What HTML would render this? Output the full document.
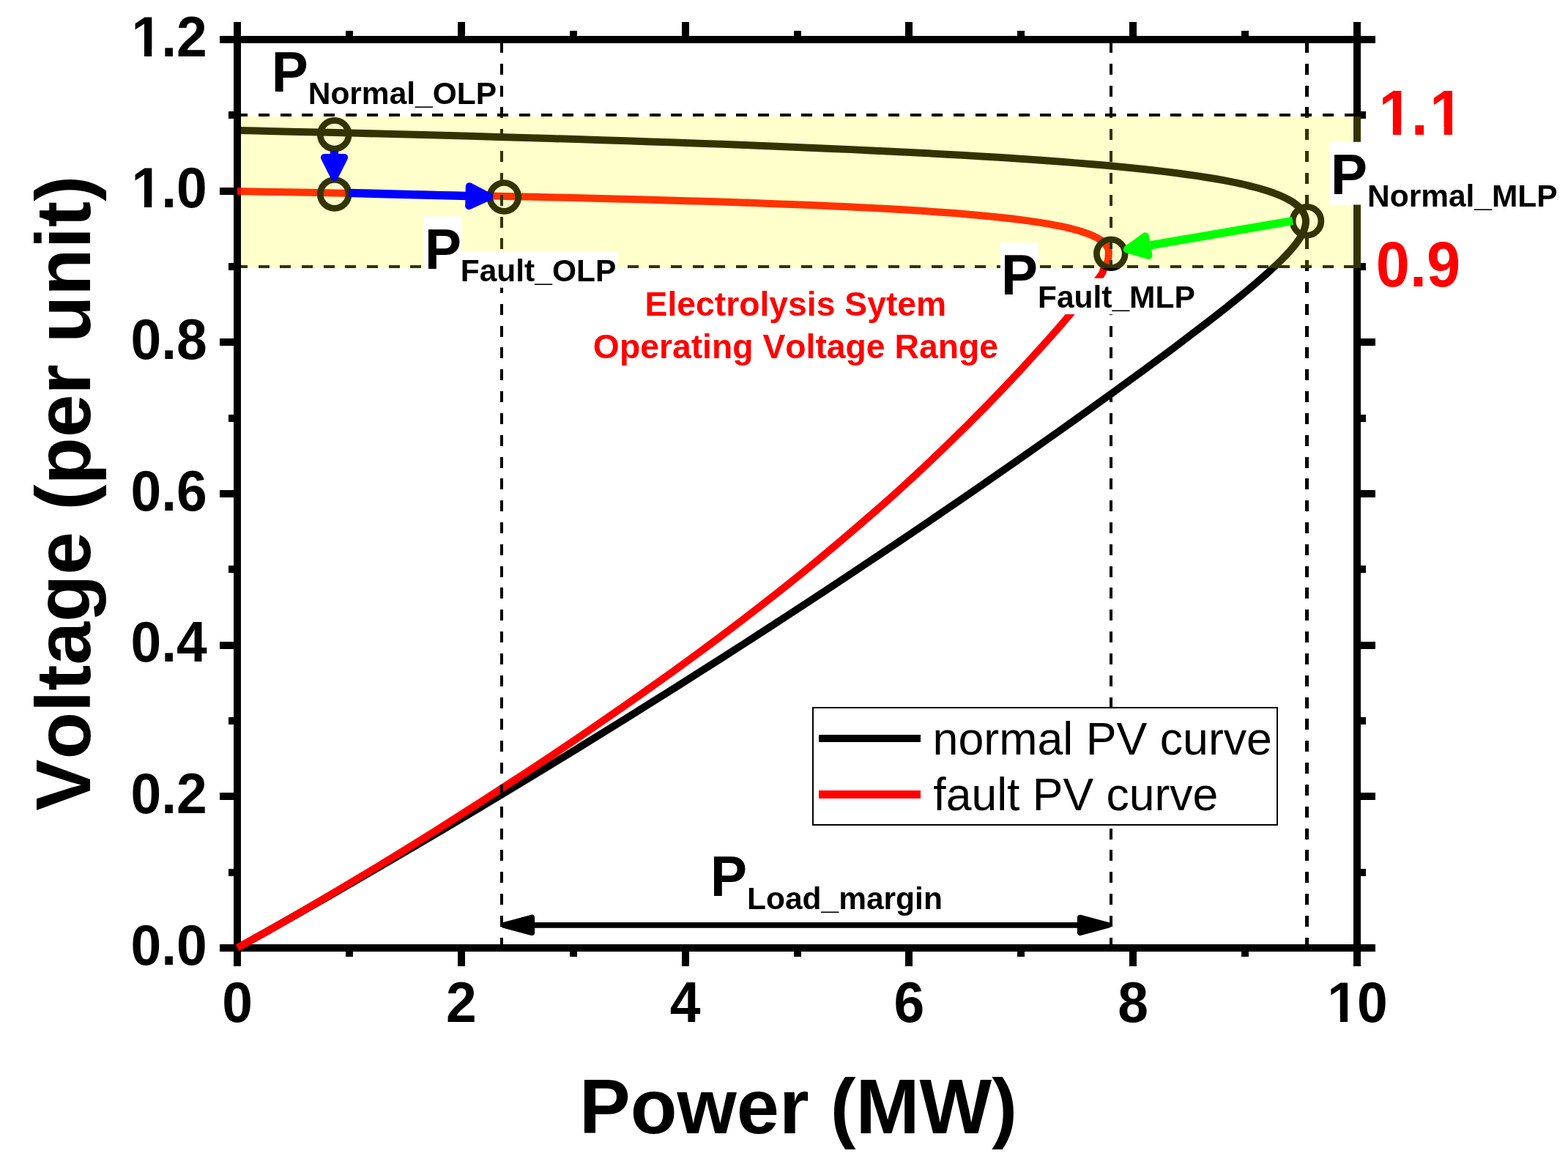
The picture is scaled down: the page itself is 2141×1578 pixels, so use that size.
<!DOCTYPE html>
<html lang="en"><head><meta charset="utf-8"><title>PV curve: voltage versus power</title>
<style>html,body{margin:0;padding:0;background:#fff;overflow:hidden}svg{display:block}text{font-family:'Liberation Sans', Arial, Helvetica, sans-serif;font-kerning:none;white-space:pre}.b{font-weight:bold}</style></head><body>
<svg width="2141" height="1578" viewBox="0 0 2141 1578" role="img" aria-label="PV curves: voltage (per unit) versus power (MW) for normal and fault conditions">
<rect width="2141" height="1578" fill="#fff"/>
<g id="axes" stroke="#000" stroke-width="10" fill="none" shape-rendering="crispEdges">
<path d="M299.5 54 H1877.5 M299.5 1294 H1877.5 M324 29.5 V1318.5 M1853 29.5 V1318.5"/>
<path d="M324 54 v-24.5 M324 1294 v24.5 M476.9 54 v-12 M476.9 1294 v12 M629.8 54 v-24.5 M629.8 1294 v24.5 M782.7 54 v-12 M782.7 1294 v12 M935.6 54 v-24.5 M935.6 1294 v24.5 M1088.5 54 v-12 M1088.5 1294 v12 M1241.4 54 v-24.5 M1241.4 1294 v24.5 M1394.3 54 v-12 M1394.3 1294 v12 M1547.2 54 v-24.5 M1547.2 1294 v24.5 M1700.1 54 v-12 M1700.1 1294 v12 M1853 54 v-24.5 M1853 1294 v24.5 M324 1294 h-24.5 M1853 1294 h24.5 M324 1190.67 h-12 M1853 1190.67 h12 M324 1087.33 h-24.5 M1853 1087.33 h24.5 M324 984 h-12 M1853 984 h12 M324 880.67 h-24.5 M1853 880.67 h24.5 M324 777.33 h-12 M1853 777.33 h12 M324 674 h-24.5 M1853 674 h24.5 M324 570.67 h-12 M1853 570.67 h12 M324 467.33 h-24.5 M1853 467.33 h24.5 M324 364 h-12 M1853 364 h12 M324 260.67 h-24.5 M1853 260.67 h24.5 M324 157.33 h-12 M1853 157.33 h12 M324 54 h-24.5 M1853 54 h24.5"/>
</g>
<g id="curves" fill="none" stroke-width="10" stroke-linejoin="round">
<path stroke="#000" d="M324 178.03 C331 178.19 352.09 178.65 365.98 178.96 C379.88 179.27 393.67 179.59 407.35 179.9 C421.04 180.22 434.63 180.54 448.11 180.86 C461.6 181.18 474.98 181.51 488.26 181.83 C501.54 182.16 514.71 182.49 527.79 182.82 C540.86 183.15 553.84 183.49 566.71 183.83 C579.58 184.16 592.35 184.5 605.01 184.84 C617.68 185.18 630.24 185.53 642.71 185.87 C655.17 186.22 667.53 186.56 679.79 186.91 C692.04 187.26 704.2 187.62 716.25 187.97 C728.31 188.32 740.26 188.68 752.11 189.04 C763.96 189.4 775.7 189.76 787.35 190.12 C798.99 190.48 810.54 190.85 821.98 191.21 C833.42 191.58 844.76 191.95 855.99 192.32 C867.23 192.69 878.36 193.06 889.4 193.44 C900.43 193.81 911.36 194.19 922.19 194.57 C933.01 194.95 943.74 195.33 954.36 195.71 C964.99 196.1 975.51 196.48 985.93 196.87 C996.35 197.26 1006.66 197.65 1016.88 198.05 C1027.09 198.44 1037.21 198.83 1047.22 199.23 C1057.23 199.63 1067.14 200.03 1076.94 200.43 C1086.75 200.84 1096.45 201.24 1106.06 201.65 C1115.66 202.06 1125.16 202.47 1134.56 202.88 C1143.95 203.3 1153.25 203.71 1162.44 204.13 C1171.64 204.55 1180.73 204.98 1189.72 205.4 C1198.71 205.83 1207.59 206.26 1216.38 206.69 C1225.16 207.12 1233.84 207.55 1242.43 207.99 C1251.01 208.43 1259.48 208.87 1267.86 209.32 C1276.24 209.76 1284.51 210.21 1292.68 210.67 C1300.85 211.12 1308.92 211.57 1316.89 212.04 C1324.86 212.5 1332.73 212.96 1340.49 213.43 C1348.25 213.9 1355.91 214.37 1363.47 214.85 C1371.03 215.32 1378.49 215.8 1385.84 216.29 C1393.2 216.78 1400.45 217.27 1407.6 217.76 C1414.75 218.26 1421.8 218.76 1428.75 219.26 C1435.69 219.77 1442.54 220.28 1449.28 220.79 C1456.02 221.31 1462.66 221.83 1469.2 222.36 C1475.73 222.89 1482.17 223.42 1488.5 223.96 C1494.84 224.49 1501.07 225.04 1507.2 225.59 C1513.33 226.14 1519.35 226.7 1525.28 227.26 C1531.2 227.82 1537.02 228.39 1542.74 228.97 C1548.46 229.55 1554.08 230.13 1559.6 230.72 C1565.12 231.31 1570.53 231.91 1575.84 232.51 C1581.15 233.12 1586.36 233.73 1591.47 234.35 C1596.58 234.97 1601.58 235.6 1606.49 236.24 C1611.39 236.87 1616.19 237.52 1620.89 238.17 C1625.59 238.83 1630.18 239.49 1634.68 240.16 C1639.17 240.83 1643.57 241.51 1647.86 242.2 C1652.15 242.89 1656.33 243.59 1660.42 244.3 C1664.51 245.01 1668.49 245.72 1672.37 246.45 C1676.25 247.18 1680.03 247.92 1683.71 248.67 C1687.39 249.42 1690.96 250.18 1694.44 250.95 C1697.91 251.72 1701.28 252.51 1704.55 253.3 C1707.82 254.09 1710.98 254.9 1714.05 255.72 C1717.11 256.54 1720.08 257.36 1722.94 258.21 C1725.8 259.05 1728.55 259.9 1731.21 260.77 C1733.87 261.64 1736.42 262.52 1738.87 263.41 C1741.32 264.31 1743.67 265.21 1745.92 266.14 C1748.17 267.06 1750.31 267.99 1752.36 268.94 C1754.4 269.89 1756.34 270.86 1758.18 271.84 C1760.02 272.82 1761.75 273.81 1763.39 274.82 C1765.02 275.83 1766.55 276.86 1767.98 277.9 C1769.41 278.94 1770.74 280 1771.97 281.07 C1773.19 282.15 1774.32 283.24 1775.34 284.35 C1776.36 285.46 1777.28 286.58 1778.1 287.73 C1778.91 288.87 1779.63 290.03 1780.24 291.21 C1780.85 292.39 1781.37 293.59 1781.77 294.81 C1782.18 296.02 1782.49 297.28 1782.69 298.52 C1782.9 299.75 1783 300.94 1783 302.21 C1783 303.48 1782.9 304.79 1782.69 306.15 C1782.49 307.52 1782.18 308.95 1781.77 310.4 C1781.37 311.84 1780.85 313.31 1780.24 314.82 C1779.63 316.33 1778.91 317.86 1778.1 319.44 C1777.28 321.01 1776.36 322.62 1775.34 324.27 C1774.32 325.91 1773.19 327.6 1771.97 329.32 C1770.74 331.05 1769.41 332.82 1767.98 334.63 C1766.55 336.43 1765.02 338.28 1763.39 340.18 C1761.75 342.08 1760.02 344.02 1758.18 346.01 C1756.34 348 1754.4 350.03 1752.36 352.12 C1750.31 354.2 1748.17 356.33 1745.92 358.51 C1743.67 360.7 1741.32 362.93 1738.87 365.22 C1736.42 367.5 1733.87 369.84 1731.21 372.23 C1728.55 374.62 1725.8 377.07 1722.94 379.57 C1720.08 382.07 1717.11 384.62 1714.05 387.23 C1710.98 389.84 1707.82 392.51 1704.55 395.23 C1701.28 397.95 1697.91 400.73 1694.44 403.57 C1690.96 406.41 1687.39 409.3 1683.71 412.26 C1680.03 415.21 1676.25 418.23 1672.37 421.3 C1668.49 424.37 1664.51 427.51 1660.42 430.7 C1656.33 433.89 1652.15 437.14 1647.86 440.46 C1643.57 443.77 1639.17 447.15 1634.68 450.58 C1630.18 454.02 1625.59 457.51 1620.89 461.07 C1616.19 464.63 1611.39 468.25 1606.49 471.93 C1601.58 475.61 1596.58 479.35 1591.47 483.15 C1586.36 486.96 1581.15 490.82 1575.84 494.75 C1570.53 498.68 1565.12 502.66 1559.6 506.71 C1554.08 510.76 1548.46 514.88 1542.74 519.05 C1537.02 523.22 1531.2 527.46 1525.28 531.75 C1519.35 536.05 1513.33 540.41 1507.2 544.82 C1501.07 549.24 1494.84 553.72 1488.5 558.26 C1482.17 562.8 1475.73 567.4 1469.2 572.06 C1462.66 576.72 1456.02 581.44 1449.28 586.22 C1442.54 591 1435.69 595.84 1428.75 600.74 C1421.8 605.64 1414.75 610.6 1407.6 615.61 C1400.45 620.63 1393.2 625.71 1385.84 630.84 C1378.49 635.97 1371.03 641.16 1363.47 646.41 C1355.91 651.66 1348.25 656.96 1340.49 662.32 C1332.73 667.68 1324.86 673.1 1316.89 678.57 C1308.92 684.05 1300.85 689.57 1292.68 695.16 C1284.51 700.74 1276.24 706.38 1267.86 712.07 C1259.48 717.76 1251.01 723.5 1242.43 729.3 C1233.84 735.1 1225.16 740.95 1216.38 746.85 C1207.59 752.75 1198.71 758.71 1189.72 764.71 C1180.73 770.72 1171.64 776.78 1162.44 782.88 C1153.25 788.99 1143.95 795.14 1134.56 801.35 C1125.16 807.55 1115.66 813.81 1106.06 820.11 C1096.45 826.41 1086.75 832.76 1076.94 839.15 C1067.14 845.55 1057.23 851.99 1047.22 858.48 C1037.21 864.97 1027.09 871.5 1016.88 878.08 C1006.66 884.66 996.35 891.28 985.93 897.95 C975.51 904.62 964.99 911.33 954.36 918.08 C943.74 924.83 933.01 931.63 922.19 938.46 C911.36 945.3 900.43 952.18 889.4 959.1 C878.36 966.01 867.23 972.97 855.99 979.97 C844.76 986.97 833.42 994.01 821.98 1001.08 C810.54 1008.16 798.99 1015.27 787.35 1022.42 C775.7 1029.57 763.96 1036.76 752.11 1043.98 C740.26 1051.21 728.31 1058.47 716.25 1065.77 C704.2 1073.06 692.04 1080.39 679.79 1087.76 C667.53 1095.12 655.17 1102.52 642.71 1109.96 C630.24 1117.39 617.68 1124.86 605.01 1132.35 C592.35 1139.85 579.58 1147.38 566.71 1154.95 C553.84 1162.51 540.86 1170.11 527.79 1177.73 C514.71 1185.36 501.54 1193.01 488.26 1200.7 C474.98 1208.39 461.6 1216.1 448.11 1223.85 C434.63 1231.59 421.04 1239.37 407.35 1247.17 C393.67 1254.98 379.88 1262.87 365.98 1270.67 C352.09 1278.48 331 1290.11 324 1294"/>
<path stroke="#f00" d="M324 261.07 C329.71 261.17 346.91 261.45 358.24 261.64 C369.57 261.83 380.81 262.03 391.97 262.22 C403.14 262.41 414.22 262.6 425.21 262.8 C436.21 262.99 447.12 263.18 457.95 263.38 C468.78 263.57 479.52 263.77 490.19 263.96 C500.85 264.16 511.43 264.35 521.93 264.55 C532.42 264.75 542.83 264.94 553.16 265.14 C563.49 265.34 573.74 265.54 583.9 265.74 C594.06 265.94 604.14 266.14 614.14 266.34 C624.14 266.54 634.05 266.74 643.88 266.95 C653.71 267.15 663.45 267.35 673.12 267.56 C682.78 267.76 692.36 267.97 701.86 268.18 C711.35 268.39 720.77 268.59 730.1 268.8 C739.43 269.01 748.67 269.23 757.84 269.44 C767 269.65 776.08 269.87 785.08 270.08 C794.07 270.3 802.99 270.51 811.82 270.73 C820.65 270.95 829.39 271.17 838.06 271.39 C846.72 271.61 855.3 271.84 863.8 272.06 C872.29 272.29 880.71 272.51 889.04 272.74 C897.37 272.97 905.61 273.2 913.78 273.44 C921.94 273.67 930.02 273.9 938.02 274.14 C946.01 274.38 953.93 274.62 961.76 274.86 C969.59 275.1 977.34 275.35 985 275.59 C992.66 275.84 1000.24 276.09 1007.74 276.34 C1015.24 276.59 1022.65 276.85 1029.98 277.1 C1037.31 277.36 1044.56 277.62 1051.72 277.88 C1058.89 278.15 1065.97 278.41 1072.97 278.68 C1079.96 278.95 1086.88 279.22 1093.71 279.5 C1100.54 279.77 1107.29 280.05 1113.95 280.33 C1120.62 280.61 1127.2 280.9 1133.69 281.19 C1140.19 281.47 1146.61 281.77 1152.94 282.06 C1159.27 282.36 1165.52 282.66 1171.68 282.96 C1177.84 283.27 1183.92 283.57 1189.92 283.88 C1195.92 284.2 1201.83 284.51 1207.67 284.83 C1213.5 285.15 1219.24 285.48 1224.91 285.81 C1230.57 286.14 1236.16 286.47 1241.65 286.81 C1247.15 287.15 1252.57 287.49 1257.9 287.84 C1263.23 288.18 1268.48 288.54 1273.64 288.89 C1278.81 289.25 1283.89 289.62 1288.89 289.98 C1293.88 290.35 1298.8 290.73 1303.63 291.11 C1308.46 291.48 1313.21 291.87 1317.87 292.26 C1322.54 292.65 1327.12 293.05 1331.62 293.45 C1336.12 293.85 1340.53 294.26 1344.86 294.67 C1349.2 295.09 1353.44 295.51 1357.61 295.94 C1361.77 296.36 1365.86 296.8 1369.85 297.24 C1373.85 297.68 1377.77 298.13 1381.6 298.58 C1385.43 299.03 1389.18 299.49 1392.85 299.96 C1396.51 300.43 1400.09 300.91 1403.59 301.39 C1407.09 301.87 1410.51 302.36 1413.84 302.86 C1417.17 303.36 1420.42 303.86 1423.58 304.38 C1426.75 304.89 1429.83 305.41 1432.83 305.94 C1435.83 306.47 1438.75 307.01 1441.58 307.56 C1444.41 308.11 1447.16 308.66 1449.82 309.22 C1452.49 309.79 1455.07 310.36 1457.57 310.94 C1460.07 311.53 1462.49 312.12 1464.82 312.72 C1467.15 313.32 1469.4 313.93 1471.57 314.55 C1473.73 315.17 1475.81 315.79 1477.81 316.43 C1479.81 317.07 1481.73 317.72 1483.56 318.38 C1485.39 319.04 1487.14 319.71 1488.81 320.39 C1490.48 321.07 1492.06 321.76 1493.56 322.46 C1495.06 323.16 1496.47 323.87 1497.81 324.6 C1499.14 325.32 1500.39 326.05 1501.55 326.8 C1502.72 327.55 1503.8 328.3 1504.8 329.07 C1505.8 329.84 1506.72 330.62 1507.55 331.42 C1508.39 332.21 1509.14 333.01 1509.8 333.83 C1510.47 334.65 1511.05 335.48 1511.55 336.32 C1512.05 337.17 1512.47 338.02 1512.8 338.89 C1513.13 339.76 1513.38 340.52 1513.55 341.54 C1513.72 342.55 1513.94 342.59 1513.8 345 C1513.66 347.41 1513.82 352.3 1512.7 356 C1511.58 359.7 1509.13 363.28 1507.1 367.2 C1505.07 371.12 1508.27 369.05 1500.5 379.5 C1492.73 389.95 1472.87 414.98 1460.5 429.9 C1448.13 444.82 1440.65 453.09 1426.3 469.02 C1411.95 484.94 1392.22 506.67 1374.4 525.46 C1356.58 544.26 1338.47 562.87 1319.4 581.8 C1300.33 600.74 1279.9 620.44 1260 639.07 C1240.1 657.71 1226.67 670.42 1200 693.62 C1173.33 716.82 1133.33 751.12 1100 778.29 C1066.67 805.47 1033.33 831.35 1000 856.66 C966.67 881.97 933.33 906.29 900 930.15 C866.67 954.02 833.33 977.13 800 999.86 C766.67 1022.59 733.33 1044.75 700 1066.55 C666.67 1088.35 633.33 1109.7 600 1130.66 C566.67 1151.62 533.33 1172.21 500 1192.31 C466.67 1212.41 429.33 1234.34 400 1251.29 C370.67 1268.23 336.67 1286.88 324 1294"/>
</g>
<g id="guides" stroke="#000" stroke-width="4" fill="none" shape-rendering="crispEdges">
<path d="M685 1294.6 V57.2" stroke-width="4" stroke-dasharray="15 14.82"/>
<path d="M1517 1294.6 V57.2" stroke-width="4" stroke-dasharray="15 14.82"/>
<path d="M1784.5 1294.6 V57.2" stroke-width="5" stroke-dasharray="15 14.82"/>
<path d="M323.4 157 H1853" stroke-dasharray="15 14.65"/>
<path d="M323.1 364 H1853" stroke-dasharray="15 14.65"/>
</g>
<g id="points" stroke="#000" stroke-width="8.7" fill="none">
<circle cx="456.7" cy="183.7" r="19.4"/>
<circle cx="456.7" cy="264.9" r="19.4"/>
<circle cx="688.3" cy="268.9" r="19.4"/>
<circle cx="1516.8" cy="346.2" r="19.4"/>
<circle cx="1784.5" cy="301.8" r="19.4"/>
</g>
<rect id="band" x="329" y="159" width="1529" height="207" fill="#ff0" fill-opacity="0.2" shape-rendering="crispEdges"/>
<g fill="#00f" stroke="#00f" stroke-linejoin="round">
<path d="M456.5 206 L456.5 214.9" stroke-width="11.2" fill="none"/>
<path d="M456.5 241.9 L442.9 214.9 L470.1 214.9 Z" stroke-width="10"/>
</g>
<g fill="#00f" stroke="#00f" stroke-linejoin="round">
<path d="M476.6 263.4 L640.51 267.65" stroke-width="11.4" fill="none"/>
<path d="M668.3 268.37 L640.16 281.15 L640.86 254.15 Z" stroke-width="10"/>
</g>
<g fill="#0f0" stroke="#0f0" stroke-linejoin="round">
<path d="M1765.1 301.4 L1566.22 335.64" stroke-width="11.2" fill="none"/>
<path d="M1538.83 340.35 L1563.93 322.33 L1568.51 348.94 Z" stroke-width="10"/>
</g>
<g fill="#000" stroke="#000" stroke-linejoin="round">
<path d="M726.3 1262.9 L1474.7 1262.9" stroke-width="7.6" fill="none"/>
<path d="M1513.7 1262.9 L1474.7 1273.3 L1474.7 1252.5 Z M687.3 1262.9 L726.3 1252.5 L726.3 1273.3 Z" stroke-width="7.6"/>
</g>
<text class="b" transform="translate(370.7 125) scale(1 1.04)" font-size="75">P</text>
<text class="b" transform="translate(420.7 141.9) scale(1 1.02)" font-size="42.5">Normal_OLP</text>
<path fill="#fff" d="M578.7 295.6 H630.4 V381.4 H578.7 Z M630.4 343.6 H843 V392.8 H630.4 Z"/>
<text class="b" transform="translate(579.9 366.8) scale(1 1.04)" font-size="75">P</text>
<text class="b" transform="translate(628.8 383.6) scale(1 1.02)" font-size="42.5">Fault_OLP</text>
<path fill="#fff" d="M1365.8 331.2 H1417.5 V417 H1365.8 Z M1417.5 379.8 H1633.2 V429 H1417.5 Z"/>
<text class="b" transform="translate(1367 402.4) scale(1 1.04)" font-size="75">P</text>
<text class="b" transform="translate(1417 419.8) scale(1 1.02)" font-size="42.5">Fault_MLP</text>
<path fill="#fff" d="M1815.7 193.7 H1867.4 V279.5 H1815.7 Z M1867.4 241.5 H2127 V290.7 H1867.4 Z"/>
<text class="b" transform="translate(1816.9 264.9) scale(1 1.04)" font-size="75">P</text>
<text class="b" transform="translate(1867 281.5) scale(1 1.02)" font-size="42.5">Normal_MLP</text>
<text class="b" transform="translate(970 1222.7) scale(1 1.04)" font-size="75">P</text>
<text class="b" transform="translate(1020 1241.2) scale(1 1)" font-size="42.5">Load_margin</text>
<text class="b" transform="translate(1086.4 430.8) scale(1 1)" font-size="46.3" text-anchor="middle" fill="#f00">Electrolysis Sytem</text>
<text class="b" transform="translate(1086.4 489.3) scale(1 1)" font-size="46.3" text-anchor="middle" fill="#f00">Operating Voltage Range</text>
<text class="b" transform="translate(1878.8 183.5) scale(1 1.04)" font-size="83" fill="#f00" clip-path="url(#c1)"><tspan dx="3.6">1</tspan><tspan dx="-1.8">.</tspan><tspan dx="2.5">1</tspan></text>
<text class="b" transform="translate(1878.8 390.6) scale(1 1.04)" font-size="83" fill="#f00">0.9</text>
<rect x="1110.1" y="965.9" width="634.1" height="160.3" fill="#fff" stroke="#000" stroke-width="2" shape-rendering="crispEdges"/>
<path d="M1118 1007.8 H1257" stroke="#000" stroke-width="10.5" shape-rendering="crispEdges"/>
<path d="M1118 1084.7 H1257" stroke="#f00" stroke-width="10.5" shape-rendering="crispEdges"/>
<text transform="translate(1273.6 1030) scale(1 1)" font-size="62.7">normal PV curve</text>
<text transform="translate(1274.3 1106.3) scale(1 1)" font-size="62.5">fault PV curve</text>
<text class="b" transform="translate(282.7 1316.5) scale(1 1.04)" font-size="75" text-anchor="end">0.0</text>
<text class="b" transform="translate(282.7 1109.83) scale(1 1.04)" font-size="75" text-anchor="end">0.2</text>
<text class="b" transform="translate(282.7 903.17) scale(1 1.04)" font-size="75" text-anchor="end">0.4</text>
<text class="b" transform="translate(282.7 696.5) scale(1 1.04)" font-size="75" text-anchor="end">0.6</text>
<text class="b" transform="translate(282.7 489.83) scale(1 1.04)" font-size="75" text-anchor="end">0.8</text>
<text class="b" transform="translate(178.44 283.17) scale(1 1.04)" font-size="75" clip-path="url(#c2)"><tspan dx="1">1</tspan><tspan dx="-1">.</tspan>0</text>
<text class="b" transform="translate(178.44 76.5) scale(1 1.04)" font-size="75" clip-path="url(#c3)"><tspan dx="1">1</tspan><tspan dx="-1">.</tspan>2</text>
<text class="b" transform="translate(324 1395) scale(1 1.04)" font-size="75" text-anchor="middle">0</text>
<text class="b" transform="translate(629.8 1395) scale(1 1.04)" font-size="75" text-anchor="middle">2</text>
<text class="b" transform="translate(935.6 1395) scale(1 1.04)" font-size="75" text-anchor="middle">4</text>
<text class="b" transform="translate(1241.4 1395) scale(1 1.04)" font-size="75" text-anchor="middle">6</text>
<text class="b" transform="translate(1547.2 1395) scale(1 1.04)" font-size="75" text-anchor="middle">8</text>
<text class="b" transform="translate(1811.29 1395) scale(1 1.04)" font-size="75" clip-path="url(#c4)"><tspan dx="1">1</tspan><tspan dx="-1">0</tspan></text>
<text class="b" transform="translate(1090 1547) scale(1 1.02)" font-size="104.5" text-anchor="middle">Power (MW)</text>
<text class="b" transform="translate(123.1 673.2) rotate(-90) scale(1 1)" font-size="105.45" text-anchor="middle">Voltage (per unit)</text>
<defs><clipPath id="c1"><path clip-rule="evenodd" d="M-20 -91.3 H135.38 V33.2 H-20 Z M7.33 -9.67 H23.02 V2 H7.33 Z M34.31 -9.67 H48.95 V2 H34.31 Z M77.25 -9.67 H92.94 V2 H77.25 Z M104.23 -9.67 H118.87 V2 H104.23 Z"/></clipPath><clipPath id="c2"><path clip-rule="evenodd" d="M-20 -82.5 H124.26 V30 H-20 Z M4.22 -8.85 H18.55 V2 H4.22 Z M28.75 -8.85 H42.12 V2 H28.75 Z"/></clipPath><clipPath id="c3"><path clip-rule="evenodd" d="M-20 -82.5 H124.26 V30 H-20 Z M4.22 -8.85 H18.55 V2 H4.22 Z M28.75 -8.85 H42.12 V2 H28.75 Z"/></clipPath><clipPath id="c4"><path clip-rule="evenodd" d="M-20 -82.5 H103.42 V30 H-20 Z M4.22 -8.85 H18.55 V2 H4.22 Z M28.75 -8.85 H42.12 V2 H28.75 Z"/></clipPath></defs>
</svg></body></html>
